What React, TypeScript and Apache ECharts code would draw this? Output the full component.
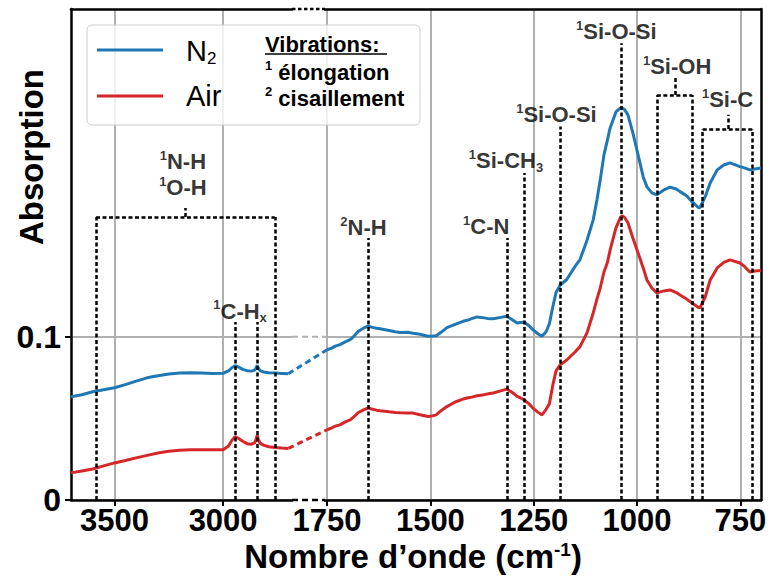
import React, { useEffect, useRef } from "react";
import * as echarts from "echarts";

const FONT = "'Liberation Sans', Arial, Helvetica, sans-serif";
const BLUE = "#1f77b4";
const RED = "#d62728";
const GRID = "#b0b0b0";

// ---- high wavenumber segment (cm-1) ----
const waveHigh = [3700, 3650, 3600, 3550, 3500, 3450, 3400, 3350, 3300, 3250, 3200, 3150, 3100, 3050, 3000, 2975, 2960, 2945, 2930, 2910, 2890, 2870, 2855, 2848, 2843, 2838, 2830, 2815, 2790, 2760, 2730, 2700];
const n2High = [0.0632, 0.0644, 0.0663, 0.0675, 0.0687, 0.0706, 0.0728, 0.0748, 0.0761, 0.0772, 0.0778, 0.0779, 0.0777, 0.0775, 0.0776, 0.079, 0.081, 0.0822, 0.0815, 0.08, 0.0792, 0.0789, 0.0795, 0.081, 0.0825, 0.0808, 0.0792, 0.0784, 0.0779, 0.0777, 0.0775, 0.0773];
const airHigh = [0.0166, 0.0178, 0.019, 0.0209, 0.0227, 0.0242, 0.0258, 0.0273, 0.0288, 0.0298, 0.0304, 0.0307, 0.0307, 0.0307, 0.0308, 0.033, 0.0365, 0.0388, 0.0378, 0.036, 0.0345, 0.0342, 0.035, 0.0372, 0.0397, 0.037, 0.0348, 0.0336, 0.0326, 0.0321, 0.0318, 0.0316];

// ---- low wavenumber segment (cm-1) ----
const waveLow = [1750, 1740, 1730, 1719, 1706, 1694, 1684, 1675, 1662, 1651, 1640, 1630, 1622, 1600, 1585, 1573, 1555, 1542, 1525, 1506, 1495, 1486, 1475, 1460, 1440, 1421, 1411, 1400, 1387, 1370, 1356, 1348, 1330, 1315, 1300, 1290, 1282, 1273, 1262, 1252, 1240, 1230, 1220, 1212, 1204, 1196, 1186, 1170, 1150, 1138, 1121, 1106, 1097, 1089, 1080, 1072, 1065, 1051, 1040, 1036, 1030, 1022, 1010, 1000, 985, 976, 964, 952, 935, 920, 905, 896, 880, 867, 852, 848, 835, 823, 806, 790, 775, 751, 740, 727, 715, 700];
const n2Low = [0.092, 0.0928, 0.0942, 0.0951, 0.0968, 0.0982, 0.1005, 0.1031, 0.1052, 0.1064, 0.1057, 0.1052, 0.1049, 0.1038, 0.103, 0.1025, 0.1027, 0.1021, 0.1015, 0.1003, 0.1004, 0.1006, 0.1025, 0.1055, 0.1075, 0.1094, 0.11, 0.111, 0.1121, 0.1115, 0.1109, 0.111, 0.1118, 0.1125, 0.11, 0.1084, 0.1086, 0.1088, 0.1068, 0.1043, 0.1018, 0.1002, 0.103, 0.108, 0.118, 0.127, 0.1315, 0.135, 0.143, 0.1472, 0.159, 0.1715, 0.1837, 0.196, 0.2113, 0.22, 0.2278, 0.2376, 0.24, 0.24, 0.239, 0.2358, 0.2247, 0.214, 0.1978, 0.1917, 0.188, 0.1868, 0.1898, 0.1915, 0.1904, 0.1888, 0.1862, 0.1826, 0.1792, 0.1788, 0.1857, 0.1941, 0.2021, 0.2051, 0.2064, 0.2041, 0.2033, 0.2021, 0.2027, 0.2033];
const airLow = [0.043, 0.044, 0.0452, 0.046, 0.0478, 0.0491, 0.0512, 0.0534, 0.0552, 0.0563, 0.0556, 0.055, 0.0546, 0.054, 0.0536, 0.0534, 0.0532, 0.0532, 0.0522, 0.0511, 0.0515, 0.0521, 0.0545, 0.0572, 0.06, 0.0618, 0.0624, 0.063, 0.0638, 0.0645, 0.0652, 0.0655, 0.0668, 0.0679, 0.0655, 0.0634, 0.0625, 0.0613, 0.059, 0.0563, 0.0538, 0.0521, 0.0555, 0.059, 0.07, 0.079, 0.0827, 0.0857, 0.0906, 0.0939, 0.1023, 0.1145, 0.123, 0.1298, 0.1396, 0.1451, 0.1531, 0.1666, 0.173, 0.174, 0.173, 0.1697, 0.1604, 0.1531, 0.1421, 0.1347, 0.1298, 0.1268, 0.128, 0.1286, 0.127, 0.1255, 0.123, 0.1206, 0.118, 0.1176, 0.1243, 0.1347, 0.1421, 0.1455, 0.147, 0.1451, 0.143, 0.1396, 0.1402, 0.1405];

// ---- axes ----
const ticksHigh = [3500, 3000];
const ticksLow = [1750, 1500, 1250, 1000, 750];
const yTicks = [0, 0.1];
const rangeHigh = [2683, 3700];
const rangeLow = [700, 1755];
const yMax = 0.3006;

// ---- annotations: [wavenumber, top of dashed line] ----
const linesHigh = [[3585, 0.1733], [2762, 0.1733], [2945, 0.109], [2843, 0.109]];
const bracketsHigh = [{ from: 3585, to: 2762, level: 0.1733, stem: 3175, stemTop: 0.1788 }];
const linesLow = [[1651, 0.1604], [1314, 0.1604], [1273, 0.2002], [1186, 0.2286], [1039, 0.2797], [952, 0.248], [866, 0.248], [841, 0.2272], [721, 0.2272]];
const bracketsLow = [
  { from: 952, to: 866, level: 0.248, stem: 908, stemTop: 0.2584 },
  { from: 841, to: 721, level: 0.2272, stem: 780, stemTop: 0.2358 },
];
const labelsHigh = [
  { w: 3185, a: 0.199, text: "{u|1}{p|N-H}\n{u|1}{p|O-H}" },
  { w: 2922, a: 0.1157, text: "{u|1}{p|C-H}{d|x}" },
];
const labelsLow = [
  { w: 1662, a: 0.1666, text: "{u|2}{p|N-H}" },
  { w: 1365, a: 0.1672, text: "{u|1}{p|C-N}" },
  { w: 1317, a: 0.2076, text: "{u|1}{p|Si-CH}{d|3}" },
  { w: 1195, a: 0.2358, text: "{u|1}{p|Si-O-Si}" },
  { w: 1050, a: 0.2866, text: "{u|1}{p|Si-O-Si}" },
  { w: 903, a: 0.2652, text: "{u|1}{p|Si-OH}" },
  { w: 781, a: 0.245, text: "{u|1}{p|Si-C}" },
];

const RICH: any = {
  p: { fontFamily: FONT, fontWeight: "bold", fontSize: 22, lineHeight: 26, color: "#000" },
  u: { fontFamily: FONT, fontWeight: "bold", fontSize: 13, lineHeight: 16, verticalAlign: "top", color: "#000" },
  d: { fontFamily: FONT, fontWeight: "bold", fontSize: 13, lineHeight: 13, verticalAlign: "bottom", color: "#000" },
};

function segs(lines: number[][], brackets: any[]) {
  const d: any[] = [];
  lines.forEach(([w, top]) => d.push([{ coord: [w, 0] }, { coord: [w, top] }]));
  brackets.forEach((b) => {
    d.push([{ coord: [b.from, b.level] }, { coord: [b.to, b.level] }]);
    d.push([{ coord: [b.stem, b.level] }, { coord: [b.stem, b.stemTop] }]);
  });
  return d;
}

function xAxisMain(grid: number, range: number[], ticks: number[]) {
  return {
    type: "value", gridIndex: grid, min: range[0], max: range[1], inverse: true,
    axisLine: { show: true, onZero: false, lineStyle: { color: "#000", width: 2.5 } },
    axisTick: { show: true, customValues: ticks, length: 6, lineStyle: { color: "#000", width: 2 } },
    axisLabel: {
      show: true, customValues: ticks, margin: 5, color: "#000", fontFamily: FONT, fontWeight: "bold",
      fontSize: 31, lineHeight: 30, formatter: (v: number) => String(v),
    },
    splitLine: { show: true, lineStyle: { color: GRID, width: 2 } },
  };
}
function xAxisTop(grid: number, range: number[]) {
  return {
    type: "value", gridIndex: grid, position: "top", min: range[0], max: range[1], inverse: true,
    axisLine: { show: true, onZero: false, lineStyle: { color: "#000", width: 2.5 } },
    axisTick: { show: false }, axisLabel: { show: false }, splitLine: { show: false },
  };
}

function lineSeries(x: number, data: number[][], color: string) {
  return {
    type: "line", xAxisIndex: x, yAxisIndex: x, data, showSymbol: false, symbol: "none",
    lineStyle: { color, width: 3 }, itemStyle: { color }, z: 3, silent: true,
  };
}

function annotSeries(x: number, labels: any[], lines: number[][], brackets: any[]) {
  return {
    type: "scatter", xAxisIndex: x, yAxisIndex: x, symbolSize: 0, silent: true, z: 6, clip: false,
    data: labels.map((l) => [l.w, l.a]),
    label: { show: true, position: "inside", color: "#000", rich: RICH, formatter: (p: any) => labels[p.dataIndex].text },
    markLine: {
      silent: true, symbol: ["none", "none"], animation: false,
      label: { show: false },
      lineStyle: { color: "#000", width: 2.5, type: [4, 2.5] },
      data: segs(lines, brackets),
    },
  };
}

export default function App() {
  const ref = useRef<HTMLDivElement>(null);
  useEffect(() => {
    if (!ref.current) return;
    const chart = echarts.init(ref.current, null, { renderer: "svg" });
    const option: any = {
      animation: false,
      backgroundColor: "#fff",
      grid: [
        { left: 71, top: 9, width: 221, height: 491 },
        { left: 325, top: 9, width: 436, height: 491 },
      ],
      xAxis: [xAxisMain(0, rangeHigh, ticksHigh), xAxisMain(1, rangeLow, ticksLow), xAxisTop(0, rangeHigh), xAxisTop(1, rangeLow)],
      yAxis: [
        {
          type: "value", gridIndex: 0, min: 0, max: yMax,
          axisLine: { show: true, onZero: false, lineStyle: { color: "#000", width: 2.5 } },
          axisTick: { show: true, customValues: yTicks, length: 6, lineStyle: { color: "#000", width: 2 } },
          axisLabel: { show: true, customValues: yTicks, margin: 10, color: "#000", fontFamily: FONT, fontWeight: "bold", fontSize: 32, formatter: (v: number) => (v === 0 ? "0" : String(v)) },
          splitLine: { show: true, lineStyle: { color: GRID, width: 2 } },
        },
        {
          type: "value", gridIndex: 1, min: 0, max: yMax,
          axisLine: { show: false }, axisTick: { show: false, customValues: yTicks }, axisLabel: { show: false, customValues: yTicks },
          splitLine: { show: true, lineStyle: { color: GRID, width: 2 } },
        },
        {
          type: "value", gridIndex: 1, min: 0, max: yMax, position: "right",
          axisLine: { show: true, onZero: false, lineStyle: { color: "#000", width: 2.5 } },
          axisTick: { show: false }, axisLabel: { show: false }, splitLine: { show: false },
        },
      ],
      series: [
        lineSeries(0, waveHigh.map((w, i) => [w, n2High[i]]), BLUE),
        lineSeries(0, waveHigh.map((w, i) => [w, airHigh[i]]), RED),
        lineSeries(1, waveLow.map((w, i) => [w, n2Low[i]]), BLUE),
        lineSeries(1, waveLow.map((w, i) => [w, airLow[i]]), RED),
        annotSeries(0, labelsHigh, linesHigh, bracketsHigh),
        annotSeries(1, labelsLow, linesLow, bracketsLow),
      ],
    };
    chart.setOption(option);

    const px = (g: number, v: number[]) => chart.convertToPixel({ xAxisIndex: g, yAxisIndex: g }, v) as number[];
    const leftEnd = px(0, [rangeHigh[0], 0]);
    const rightStart = px(1, [rangeLow[1], 0]);
    const yTop = px(0, [rangeHigh[0], yMax])[1];
    const y01 = px(0, [rangeHigh[0], 0.1])[1];
    const bA = px(0, [waveHigh[waveHigh.length - 1], n2High[n2High.length - 1]]);
    const bB = px(1, [waveLow[0], n2Low[0]]);
    const rA = px(0, [waveHigh[waveHigh.length - 1], airHigh[airHigh.length - 1]]);
    const rB = px(1, [waveLow[0], airLow[0]]);

    const txt = (x: number, y: number, text: string, rich: any, extra: any = {}) => ({
      type: "text", x, y, z: 101,
      style: { text, rich, fill: "#000", align: "left", verticalAlign: "middle", ...extra },
    });
    const legRich = {
      n: { fontFamily: FONT, fontSize: 29, lineHeight: 32, color: "#000" },
      s: { fontFamily: FONT, fontSize: 17, lineHeight: 14, verticalAlign: "bottom", color: "#000" },
    };
    const vibRich = {
      b: { fontFamily: FONT, fontWeight: "bold", fontSize: 22, lineHeight: 26, color: "#000" },
      u: { fontFamily: FONT, fontWeight: "bold", fontSize: 13, lineHeight: 16, verticalAlign: "top", color: "#000" },
    };
    const titleRich = {
      t: { fontFamily: FONT, fontWeight: "bold", fontSize: 33, lineHeight: 32, color: "#000" },
      u: { fontFamily: FONT, fontWeight: "bold", fontSize: 19, lineHeight: 18, verticalAlign: "top", color: "#000" },
    };

    chart.setOption({
      graphic: [
        // gap decorations of the broken axis
        { type: "line", z: 50, shape: { x1: leftEnd[0], y1: yTop, x2: rightStart[0], y2: yTop }, style: { stroke: "#000", lineWidth: 2.5, lineDash: [3.5, 2.5] } },
        { type: "line", z: 50, shape: { x1: leftEnd[0], y1: leftEnd[1], x2: rightStart[0], y2: leftEnd[1] }, style: { stroke: "#000", lineWidth: 2.5, lineDash: [6, 4] } },
        { type: "line", z: 1, shape: { x1: leftEnd[0], y1: y01, x2: rightStart[0], y2: y01 }, style: { stroke: GRID, lineWidth: 2, lineDash: [6, 4] } },
        { type: "line", z: 50, shape: { x1: bA[0], y1: bA[1], x2: bB[0], y2: bB[1] }, style: { stroke: BLUE, lineWidth: 3, lineDash: [6, 4] } },
        { type: "line", z: 50, shape: { x1: rA[0], y1: rA[1], x2: rB[0], y2: rB[1] }, style: { stroke: RED, lineWidth: 3, lineDash: [6, 4] } },
        // legend box
        { type: "rect", z: 100, shape: { x: 87, y: 25, width: 333, height: 100, r: 5 }, style: { fill: "rgba(255,255,255,0.8)", stroke: "#cccccc", lineWidth: 1 } },
        { type: "line", z: 101, shape: { x1: 97, y1: 50, x2: 163, y2: 50 }, style: { stroke: BLUE, lineWidth: 3 } },
        { type: "line", z: 101, shape: { x1: 97, y1: 96, x2: 163, y2: 96 }, style: { stroke: RED, lineWidth: 3 } },
        txt(186, 51, "{n|N}{s|2}", legRich),
        txt(186, 96, "{n|Air}", legRich),
        txt(265, 44, "{b|Vibrations:}", vibRich),
        { type: "line", z: 101, shape: { x1: 265, y1: 54, x2: 387, y2: 54 }, style: { stroke: "#000", lineWidth: 1.6 } },
        txt(265, 72, "{u|1}{b| élongation}", vibRich),
        txt(265, 98, "{u|2}{b| cisaillement}", vibRich),
        // axis titles
        txt(413, 556, "{t|Nombre d\u2019onde (cm}{u|-1}{t|)}", titleRich, { align: "center" }),
        { type: "text", z: 101, x: 31, y: 157, rotation: Math.PI / 2, style: { text: "Absorption", fill: "#000", fontFamily: FONT, fontWeight: "bold", fontSize: 33, align: "center", verticalAlign: "middle" } },
      ],
    });

    return () => chart.dispose();
  }, []);
  return <div ref={ref} style={{ position: "fixed", left: 0, top: 0, width: 771, height: 579 }} />;
}
